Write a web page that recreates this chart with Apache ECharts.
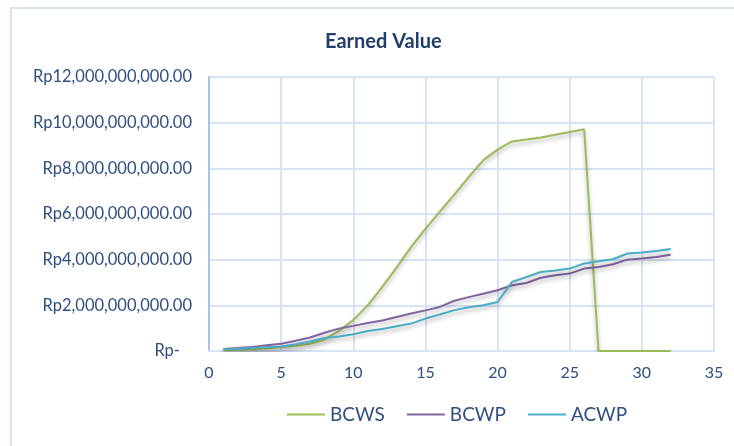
<html>
<head>
  <meta charset="utf-8">
  <title>Earned Value</title>
  <script src="https://cdn.jsdelivr.net/npm/echarts@6/dist/echarts.min.js"></script>
  <style>
    html, body { margin: 0; width: 100%; height: 100%; background: #fff; }
    #chart { width: 734px; height: 446px; }
  </style>
</head>
<body>
  <div id="chart"></div>
  <script>
    // periods (x) and values in billions of rupiah
    var periods = [1, 2, 3, 4, 5, 6, 7, 8, 9, 10, 11, 12, 13, 14, 15, 16,
      17, 18, 19, 20, 21, 22, 23, 24, 25, 26, 27, 28, 29, 30, 31, 32];
    var bcws = [0.03, 0.05, 0.08, 0.12, 0.17, 0.23, 0.32, 0.5, 0.88, 1.35, 2.0, 2.8, 3.65, 4.55, 5.35, 6.1,
      6.85, 7.62, 8.35, 8.82, 9.18, 9.26, 9.35, 9.47, 9.59, 9.71, 0, 0, 0, 0, 0, 0];
    var bcwp = [0.09, 0.13, 0.18, 0.25, 0.32, 0.45, 0.59, 0.8, 0.98, 1.1, 1.23, 1.34, 1.49, 1.64, 1.78, 1.93,
      2.2, 2.36, 2.51, 2.66, 2.88, 2.98, 3.21, 3.32, 3.39, 3.61, 3.68, 3.8, 4.0, 4.05, 4.12, 4.22];
    var acwp = [0.08, 0.1, 0.13, 0.17, 0.2, 0.3, 0.42, 0.57, 0.64, 0.73, 0.88, 0.96, 1.08, 1.2, 1.42, 1.6,
      1.79, 1.92, 2.0, 2.15, 3.02, 3.24, 3.46, 3.53, 3.61, 3.83, 3.93, 4.02, 4.27, 4.31, 4.38, 4.47];

    var textColor = '#2F4F7F';
    var gridColor = '#D6E3F5';

    function pairs(vals) {
      return periods.map(function (p, i) { return [p, vals[i] * 1e9]; });
    }

    function mkSeries(name, vals, color) {
      return {
        name: name,
        type: 'line',
        data: pairs(vals),
        symbol: 'none',
        color: color,
        lineStyle: {
          width: 2,
          color: color,
          shadowColor: 'rgba(0,0,0,0.3)',
          shadowBlur: 4,
          shadowOffsetY: 3
        }
      };
    }

    var myChart = echarts.init(document.getElementById('chart'));
    var option = {
      animation: false,
      textStyle: { fontFamily: 'Lato, "Open Sans", sans-serif' },
      graphic: [{
        type: 'rect',
        shape: { x: 11, y: 8, width: 800, height: 500 },
        style: { fill: 'none', stroke: gridColor, lineWidth: 2 }
      }],
      title: {
        text: 'Earned Value',
        left: 320,
        top: 27,
        textStyle: { color: '#1F3F6A', fontSize: 20, fontWeight: 'bold', fontFamily: 'Lato, sans-serif' }
      },
      legend: {
        top: 400,
        left: 282,
        itemWidth: 38,
        itemHeight: 2,
        itemGap: 22,
        icon: 'rect',
        textStyle: { color: textColor, fontSize: 19 },
        data: ['BCWS', 'BCWP', 'ACWP']
      },
      grid: { left: 209, right: 20, top: 77, bottom: 95, containLabel: false },
      xAxis: {
        type: 'value',
        min: 0,
        max: 35,
        interval: 5,
        axisLine: { show: true, lineStyle: { color: gridColor, width: 2 } },
        axisTick: { show: false },
        axisLabel: { color: textColor, fontSize: 16, margin: 14 },
        splitLine: { show: true, lineStyle: { color: gridColor, width: 2 } }
      },
      yAxis: {
        type: 'value',
        min: 0,
        max: 12e9,
        interval: 2e9,
        axisLine: { show: true, lineStyle: { color: '#A9C2E8', width: 2 } },
        axisTick: { show: false },
        axisLabel: {
          color: textColor,
          fontSize: 16.5,
          margin: 17,
          formatter: function (v) {
            if (v === 0) return '{z|Rp-}';
            return 'Rp' + v.toLocaleString('en-US', { minimumFractionDigits: 2, maximumFractionDigits: 2 });
          },
          rich: { z: { color: textColor, fontSize: 16.5, padding: [0, 12, 0, 0] } }
        },
        splitLine: { show: true, lineStyle: { color: gridColor, width: 2 } }
      },
      series: [
        mkSeries('BCWS', bcws, '#9BBB59'),
        mkSeries('BCWP', bcwp, '#8064A2'),
        mkSeries('ACWP', acwp, '#4BACC6')
      ]
    };
    myChart.setOption(option);
  </script>
</body>
</html>
